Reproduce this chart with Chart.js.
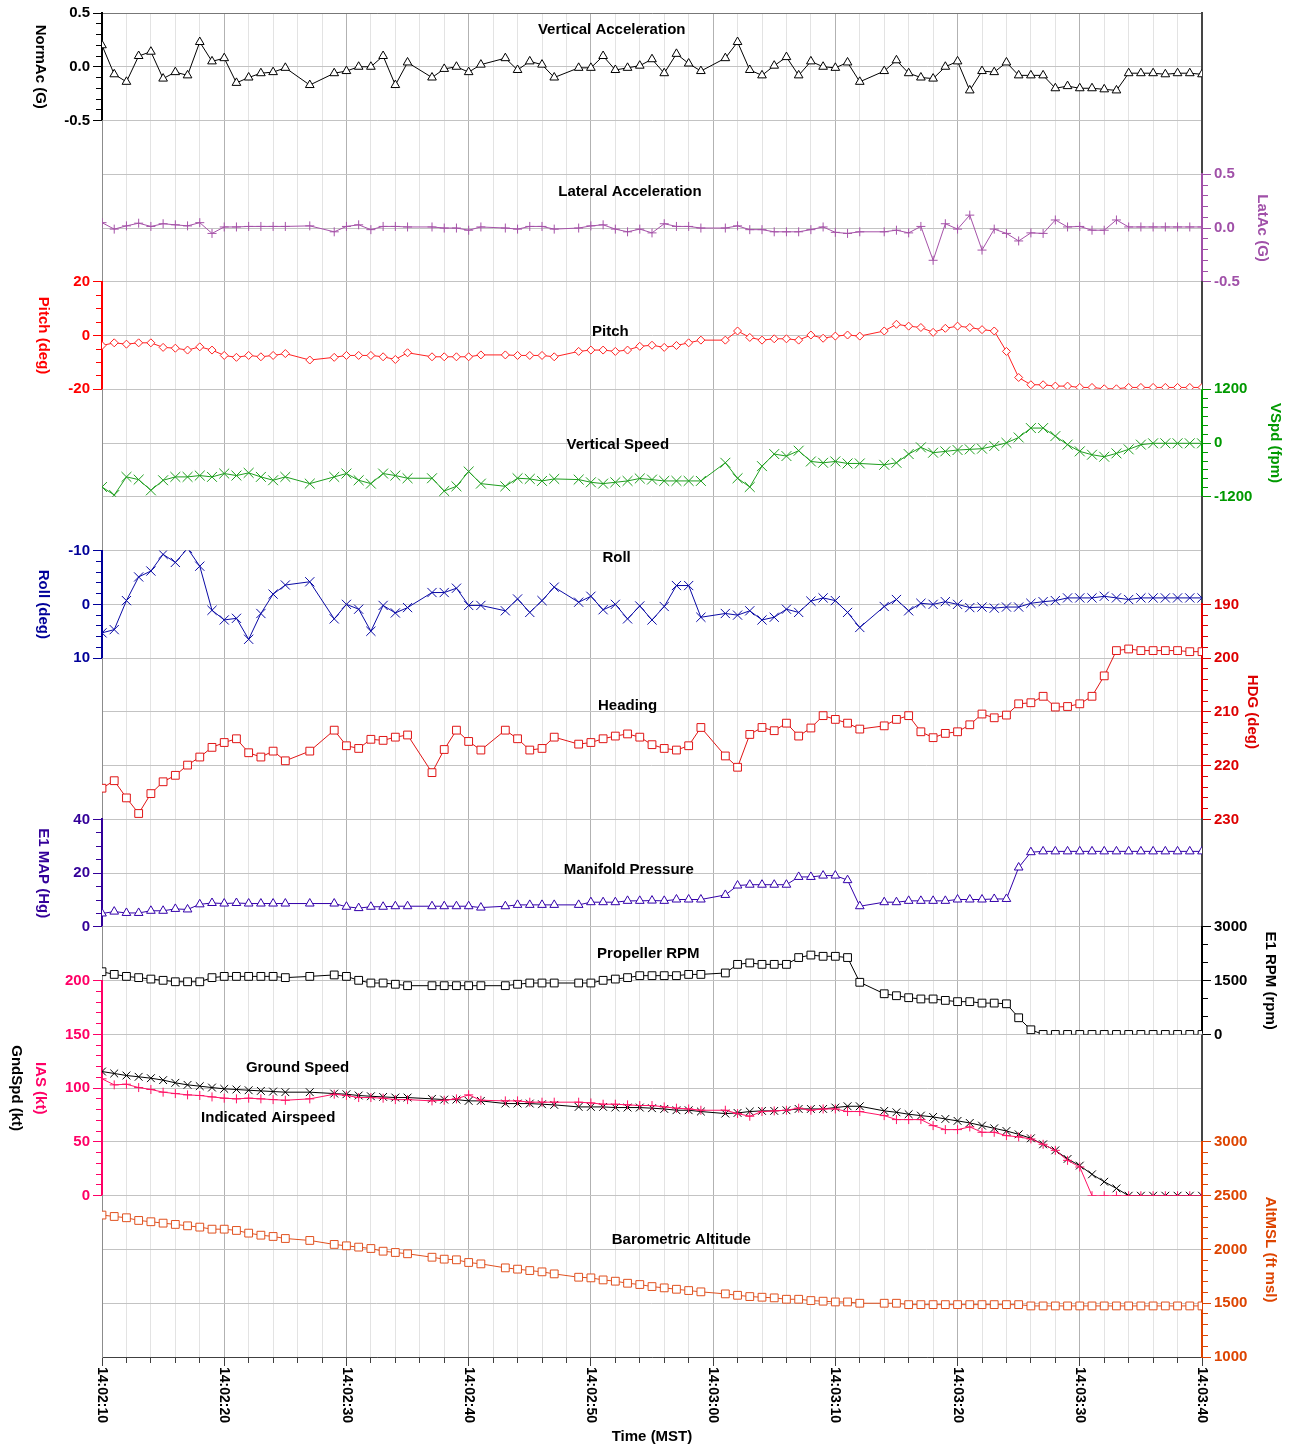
<!DOCTYPE html>
<html>
<head>
<meta charset="utf-8">
<title>Flight data 14:02:10 - 14:03:40</title>
<script src="https://cdn.jsdelivr.net/npm/chart.js@4.4.1/dist/chart.umd.min.js"></script>
<style>
  html, body { margin: 0; padding: 0; background: #fff; }
</style>
</head>
<body>
<canvas id="flightChart" width="1291" height="1448"></canvas>
<script>
// sample times, seconds after 14:02:10
const times = [0, 1, 2, 3, 4, 5, 6, 7, 8, 9, 10, 11, 12, 13, 14, 15, 17, 19, 20, 21, 22, 23, 24, 25,
  27, 28, 29, 30, 31, 33, 34, 35, 36, 37, 39, 40, 41, 42, 43, 44, 45, 46, 47, 48, 49,
  51, 52, 53, 54, 55, 56, 57, 58, 59, 60, 61, 62, 64, 65, 66, 67, 68, 69, 70, 71, 72, 73, 74,
  75, 76, 77, 78, 79, 80, 81, 82, 83, 84, 85, 86, 87, 88, 89, 90];
const timeLabels = ['14:02:10', '14:02:20', '14:02:30', '14:02:40', '14:02:50',
  '14:03:00', '14:03:10', '14:03:20', '14:03:30', '14:03:40'];

const normAc = [0.2, -0.07, -0.14, 0.1, 0.14, -0.11, -0.05, -0.08, 0.23, 0.05, 0.08, -0.15, -0.1, -0.06, -0.05, -0.01,
  -0.17,
  -0.06, -0.04, 0.0, 0.0, 0.1, -0.17, 0.04,
  -0.1, -0.02, 0.0, -0.05, 0.02,
  0.08, -0.03, 0.05, 0.02, -0.1,
  -0.01, -0.01, 0.1, -0.03, -0.01, 0.01, 0.07, -0.06, 0.12, 0.03, -0.04,
  0.08, 0.23, -0.03, -0.08, 0.01, 0.09, -0.08, 0.05, 0.0, -0.01, 0.04, -0.14,
  -0.04, 0.06, -0.06, -0.1, -0.11, 0.0, 0.05, -0.22, -0.04, -0.05, 0.04, -0.08, -0.08, -0.08, -0.2,
  -0.18, -0.2, -0.2, -0.21, -0.22, -0.06, -0.06, -0.06, -0.07, -0.06, -0.06, -0.07];

const latAc = [0.05, -0.01, 0.02, 0.045, 0.015, 0.04, 0.03, 0.02, 0.05, -0.05, 0.01, 0.01, 0.015, 0.015, 0.015, 0.015,
  0.02,
  -0.035, 0.015, 0.03, -0.015, 0.015, 0.015, 0.01,
  0.01, 0.0, 0.0, -0.02, 0.01,
  0.0, -0.01, 0.015, 0.015, -0.01,
  0.0, 0.02, 0.03, -0.01, -0.035, -0.01, -0.045, 0.04, 0.015, 0.015, 0.0,
  0.0, 0.02, -0.015, -0.015, -0.035, -0.035, -0.035, -0.015, 0.01, -0.04, -0.05, -0.035,
  -0.035, -0.02, -0.045, 0.015, -0.3, 0.04, -0.01, 0.12, -0.205, -0.01, -0.05, -0.12, -0.045, -0.05, 0.075,
  0.01, 0.015, -0.02, -0.02, 0.075, 0.01, 0.01, 0.01, 0.01, 0.01, 0.01, 0.01];

const pitch = [-3.7, -2.7, -3.2, -2.7, -2.7, -4.4, -4.7, -5.4, -4.2, -5.4, -7.4, -8.1, -7.4, -7.9, -7.4, -6.7,
  -9.1,
  -8.1, -7.4, -7.4, -7.4, -7.9, -8.9, -6.4,
  -7.9, -7.9, -7.9, -7.9, -7.2,
  -7.2, -7.4, -7.4, -7.4, -7.9,
  -5.9, -5.4, -5.4, -5.9, -5.4, -4.0, -3.6, -4.4, -3.7, -2.7, -1.7,
  -1.7, 1.7, -0.7, -1.7, -1.2, -1.2, -1.7, 0.2, -1.0, -0.2, 0.2, -0.2,
  1.7, 4.2, 3.5, 3.0, 1.2, 2.7, 3.5, 3.0, 2.2, 1.7, -5.9, -15.6, -18.3, -18.3, -18.8,
  -18.8, -19.3, -19.3, -19.8, -19.8, -19.3, -19.3, -19.3, -19.3, -19.3, -19.3, -19.3];

const vSpeed = [-980, -1160, -755, -815, -1055, -830, -755, -755, -725, -755, -680, -725, -665, -755, -830, -755,
  -905,
  -755, -680, -830, -905, -680, -725, -785,
  -785, -1070, -965, -635, -905,
  -965, -785, -800, -845, -800,
  -815, -875, -905, -875, -845, -790, -815, -845, -845, -845, -845,
  -440, -785, -980, -515, -245, -290, -170, -410, -440, -410, -455, -455,
  -485, -440, -245, -95, -215, -185, -155, -140, -125, -65, 5, 125, 335, 335, 155,
  -35, -185, -260, -305, -230, -140, -35, -5, -5, -5, -5, -5];

const roll = [5.3, 4.7, -0.7, -5.1, -6.2, -9.3, -7.8, -10.4, -7.1, 1.1, 2.9, 2.6, 6.5, 1.7, -1.9, -3.6,
  -4.2,
  2.7, 0.0, 0.9, 5.0, 0.2, 1.6, 0.6,
  -2.2, -2.2, -3.0, 0.2, 0.2,
  1.2, -1.0, 1.5, -0.7, -3.2,
  -0.4, -1.5, 1.0, 0.0, 2.7, 0.3, 2.9, 0.4, -3.5, -3.5, 2.4,
  1.7, 2.0, 1.2, 2.9, 2.4, 0.9, 1.5, -0.6, -1.2, -0.7, 1.5, 4.3,
  0.4, -0.9, 1.2, -0.2, 0.0, -0.5, 0.0, 0.6, 0.5, 0.7, 0.5, 0.5, -0.2, -0.5, -0.7,
  -1.2, -1.2, -1.2, -1.5, -1.2, -0.9, -1.2, -1.2, -1.2, -1.2, -1.2, -1.2];

const heading = [224.2, 222.8, 226.0, 228.9, 225.2, 223.0, 221.8, 219.9, 218.4, 216.6, 215.7, 215.0, 217.6, 218.4, 217.3, 219.1,
  217.3,
  213.4, 216.3, 216.8, 215.1, 215.3, 214.7, 214.3,
  221.3, 217.0, 213.4, 215.5, 217.1,
  213.4, 215.0, 217.1, 216.8, 214.7,
  216.0, 215.7, 215.0, 214.5, 214.1, 214.7, 216.1, 216.8, 217.1, 216.3, 212.9,
  218.2, 220.3, 214.2, 212.9, 213.5, 212.1, 214.5, 213.0, 210.7, 211.4, 212.1, 213.2,
  212.6, 211.4, 210.7, 213.7, 214.8, 214.0, 213.7, 212.4, 210.4, 211.1, 210.6, 208.5, 208.3, 207.1, 209.1,
  209.0, 208.5, 207.1, 203.3, 198.6, 198.3, 198.6, 198.6, 198.6, 198.6, 198.8, 198.8];

const manifold = [5.0, 5.7, 5.2, 5.2, 6.0, 6.0, 6.7, 6.5, 8.4, 8.9, 8.7, 8.9, 8.7, 8.7, 8.7, 8.7,
  8.7,
  8.7, 7.5, 7.0, 7.5, 7.5, 7.7, 7.7,
  7.7, 7.7, 7.7, 7.7, 7.2,
  7.7, 8.2, 8.2, 8.2, 8.2,
  8.2, 9.2, 9.2, 9.2, 9.7, 9.7, 9.8, 9.7, 10.2, 10.2, 10.2,
  11.9, 15.4, 15.7, 15.7, 15.7, 15.7, 18.6, 18.6, 19.1, 19.1, 17.4, 7.7,
  9.2, 9.2, 9.7, 9.7, 9.7, 9.7, 10.2, 10.2, 10.2, 10.4, 10.4, 22.1, 27.8, 28.1, 28.1,
  28.1, 28.1, 28.1, 28.1, 28.1, 28.1, 28.1, 28.1, 28.1, 28.1, 28.1, 28.1];

const propRpm = [1750, 1675, 1620, 1585, 1545, 1510, 1470, 1470, 1470, 1585, 1620, 1620, 1620, 1620, 1620, 1585,
  1620,
  1660, 1620, 1510, 1435, 1435, 1400, 1360,
  1360, 1360, 1360, 1360, 1360,
  1360, 1400, 1435, 1435, 1435,
  1435, 1435, 1510, 1545, 1585, 1640, 1640, 1640, 1640, 1675, 1675,
  1715, 1955, 1995, 1955, 1955, 1955, 2145, 2215, 2180, 2180, 2145, 1455,
  1135, 1080, 1025, 990, 990, 950, 915, 915, 875, 875, 855, 465, 130, 0, 0,
  0, 0, 0, 0, 0, 0, 0, 0, 0, 0, 0, 0];

const groundSpeed = [115.5, 113.7, 111.8, 110.6, 109.3, 107.5, 105.0, 103.1, 101.9, 100.6, 99.4, 98.8, 98.1, 97.5, 96.9, 96.3,
  96.3,
  95.0, 94.4, 93.2, 92.5, 91.9, 91.3, 91.3,
  90.1, 89.4, 89.4, 88.2, 88.2,
  85.7, 85.7, 85.7, 85.1, 84.5,
  82.6, 82.6, 82.6, 82.0, 82.0, 82.0, 81.4, 80.7, 79.5, 79.5, 78.3,
  76.4, 77.0, 78.3, 78.9, 78.9, 79.5, 80.7, 80.7, 80.7, 82.0, 83.2, 83.2,
  78.9, 77.6, 75.8, 74.5, 73.3, 71.4, 69.6, 67.7, 65.2, 62.7, 60.2, 57.1, 53.4, 47.8, 42.2,
  34.2, 28.0, 19.9, 13.0, 6.8, 0, 0, 0, 0, 0, 0, 0];

const airspeed = [108.7, 103.1, 103.7, 100.6, 98.8, 96.3, 95.0, 93.8, 93.2, 91.9, 90.7, 90.1, 90.7, 90.1, 89.4, 88.8,
  90.1,
  94.4, 93.2, 91.3, 91.3, 90.7, 89.4, 89.4,
  88.2, 88.8, 90.1, 93.8, 88.8,
  88.2, 88.2, 87.0, 87.0, 87.0,
  87.0, 86.3, 85.1, 85.1, 84.5, 83.9, 83.9, 82.6, 81.4, 80.7, 79.5,
  79.5, 76.4, 73.9, 78.3, 78.9, 79.5, 81.4, 79.5, 80.7, 80.7, 78.3, 78.3,
  74.5, 70.8, 70.8, 70.8, 65.2, 61.5, 61.5, 64.0, 59.0, 59.0, 55.9, 54.7, 52.8, 47.8, 42.2,
  32.9, 26.7, 0, 0, 0, 0, 0, 0, 0, 0, 0, 0];

const altitude = [2320, 2307, 2295, 2270, 2258, 2245, 2233, 2220, 2208, 2189, 2189, 2177, 2152, 2133, 2121, 2102,
  2084,
  2047, 2034, 2022, 2009, 1984, 1972, 1960,
  1928, 1910, 1904, 1879, 1866,
  1829, 1817, 1804, 1792, 1773,
  1742, 1736, 1717, 1705, 1686, 1674, 1655, 1643, 1630, 1618, 1606,
  1587, 1574, 1562, 1556, 1550, 1537, 1537, 1525, 1519, 1512, 1512, 1500,
  1500, 1500, 1487, 1487, 1487, 1487, 1487, 1487, 1487, 1487, 1487, 1487, 1475, 1475, 1475,
  1475, 1475, 1475, 1475, 1475, 1475, 1475, 1475, 1475, 1475, 1475, 1475];

// text inside the plot, placed in data coordinates
const panelTitles = [
  { text: 'Vertical Acceleration', axis: 'yNorm', t: 41.7, v: 0.345 },
  { text: 'Lateral Acceleration', axis: 'yLat', t: 43.2, v: 0.335 },
  { text: 'Pitch', axis: 'yPitch', t: 41.6, v: 1.5 },
  { text: 'Vertical Speed', axis: 'yVspd', t: 42.2, v: -40 },
  { text: 'Roll', axis: 'yRoll', t: 42.1, v: -8.7 },
  { text: 'Heading', axis: 'yHdg', t: 43.0, v: 208.8 },
  { text: 'Manifold Pressure', axis: 'yMap', t: 43.1, v: 21.2 },
  { text: 'Propeller RPM', axis: 'yRpm', t: 44.7, v: 2260 },
  { text: 'Ground Speed', axis: 'yIas', t: 16.0, v: 119 },
  { text: 'Indicated Airspeed', axis: 'yIas', t: 13.6, v: 72.6 },
  { text: 'Barometric Altitude', axis: 'yAlt', t: 47.4, v: 2090 }
];

const axisTitles = [
  { text: 'NormAc (G)', axis: 'yNorm', side: 'left', gap: 62, color: '#000000' },
  { text: 'Pitch (deg)', axis: 'yPitch', side: 'left', gap: 59, color: '#ff0000' },
  { text: 'Roll (deg)', axis: 'yRoll', side: 'left', gap: 59, color: '#000099' },
  { text: 'E1 MAP (Hg)', axis: 'yMap', side: 'left', gap: 59, color: '#330099' },
  { text: 'IAS (kt)', axis: 'yIas', side: 'left', gap: 62, color: '#ff0066' },
  { text: 'GndSpd (kt)', axis: 'yIas', side: 'left', gap: 86, color: '#000000' },
  { text: 'LatAc (G)', axis: 'yLat', side: 'right', gap: 60, color: '#a050a8' },
  { text: 'VSpd (fpm)', axis: 'yVspd', side: 'right', gap: 73, color: '#009900' },
  { text: 'HDG (deg)', axis: 'yHdg', side: 'right', gap: 50, color: '#dd0000' },
  { text: 'E1 RPM (rpm)', axis: 'yRpm', side: 'right', gap: 68, color: '#000000' },
  { text: 'AltMSL (ft msl)', axis: 'yAlt', side: 'right', gap: 68, color: '#dd4400' }
];

const FONT = '"Liberation Sans", Arial, Helvetica, sans-serif';
Chart.defaults.font.family = FONT;
Chart.defaults.font.size = 15;
Chart.defaults.font.weight = 'bold';
Chart.defaults.color = '#000';

const LEFT_W = 102, RIGHT_W = 89;

function onStep(v, step) {
  return Math.abs(v / step - Math.round(v / step)) < 1e-6;
}

// one panel axis: a slice of the left or right stack
function panelAxis(pos, order, cells, min, max, minor, major, color, fmt, reverse) {
  const values = [];
  for (let v = min; v <= max + minor / 1000; v += minor) values.push(+v.toFixed(4));
  const left = pos === 'left';
  return {
    type: 'linear', position: pos, stack: 'panels', stackWeight: cells, weight: order,
    min: min, max: max, reverse: !!reverse,
    afterBuildTicks: axis => { axis.ticks = values.map(v => ({ value: v })); },
    afterFit: axis => { axis.width = left ? LEFT_W : RIGHT_W; },
    border: { display: true, color: color, width: 2 },
    grid: {
      color: c => (c.tick && onStep(c.tick.value, major)) ? '#c3c3c3' : 'rgba(0,0,0,0)',
      tickColor: color,
      tickLength: 9,
      tickBorderDash: c => (c.tick && onStep(c.tick.value, major)) ? [] : (left ? [0, 3, 5, 40] : [5, 40])
    },
    ticks: {
      autoSkip: false, padding: 3, color: color,
      callback: v => onStep(v, major) ? fmt(v) : ''
    }
  };
}

// empty slice between two panels, only the frame line
function spacerAxis(pos, order, cells) {
  return {
    type: 'linear', position: pos, stack: 'panels', stackWeight: cells, weight: order,
    min: 0, max: 1,
    afterFit: axis => { axis.width = pos === 'left' ? LEFT_W : RIGHT_W; },
    border: { display: true, color: pos === 'left' ? '#8c8c8c' : '#454545', width: pos === 'left' ? 1 : 2 },
    grid: { display: false },
    ticks: { display: false }
  };
}

function series(label, axis, values, color, style, radius) {
  return {
    label: label,
    yAxisID: axis,
    data: times.map((t, i) => ({ x: t, y: values[i] })),
    borderColor: color,
    borderWidth: 1,
    pointStyle: style,
    pointRadius: radius,
    pointBorderColor: color,
    pointBackgroundColor: '#ffffff',
    pointBorderWidth: 1,
    tension: 0
  };
}

const fixed1 = v => v.toFixed(1);
const plain = v => String(v);

const overlayText = {
  id: 'overlayText',
  afterDatasetsDraw(chart) {
    const ctx = chart.ctx;
    const area = chart.chartArea;
    const xs = chart.scales.x;
    ctx.save();
    ctx.font = 'bold 15px ' + FONT;
    ctx.textBaseline = 'middle';
    ctx.textAlign = 'center';
    ctx.fillStyle = '#000';
    panelTitles.forEach(p => {
      ctx.fillText(p.text, xs.getPixelForValue(p.t), chart.scales[p.axis].getPixelForValue(p.v));
    });
    axisTitles.forEach(a => {
      const s = chart.scales[a.axis];
      const x = a.side === 'left' ? area.left - a.gap : area.right + a.gap;
      ctx.save();
      ctx.translate(x, (s.top + s.bottom) / 2);
      ctx.rotate(Math.PI / 2);
      ctx.fillStyle = a.color;
      ctx.fillText(a.text, 0, 0);
      ctx.restore();
    });
    ctx.font = 'bold 14px ' + FONT;
    ctx.textAlign = 'left';
    ctx.fillStyle = '#000';
    timeLabels.forEach((lbl, i) => {
      ctx.save();
      ctx.translate(xs.getPixelForValue(i * 10), area.bottom + 10);
      ctx.rotate(Math.PI / 2);
      ctx.fillText(lbl, 0, 0);
      ctx.restore();
    });
    ctx.restore();
  }
};

new Chart(document.getElementById('flightChart'), {
  type: 'line',
  data: {
    datasets: [
      series('NormAc', 'yNorm', normAc, '#000000', 'triangle', 5),
      series('LatAc', 'yLat', latAc, '#a552a8', 'cross', 4.5),
      series('Pitch', 'yPitch', pitch, '#ff2222', 'rectRot', 4),
      series('VSpd', 'yVspd', vSpeed, '#1e9e1e', 'crossRot', 7),
      series('Roll', 'yRoll', roll, '#0a0aa5', 'crossRot', 6.5),
      series('HDG', 'yHdg', heading, '#e01515', 'rect', 5.5),
      series('E1 MAP', 'yMap', manifold, '#3300aa', 'triangle', 5),
      series('E1 RPM', 'yRpm', propRpm, '#000000', 'rect', 5.5),
      series('IAS', 'yIas', airspeed, '#ff1466', 'cross', 4.5),
      series('GndSpd', 'yIas', groundSpeed, '#000000', 'crossRot', 5.5),
      series('AltMSL', 'yAlt', altitude, '#e0501e', 'rect', 5.5)
    ]
  },
  options: {
    responsive: false,
    animation: false,
    devicePixelRatio: 1,
    layout: { padding: 0 },
    plugins: { legend: { display: false }, tooltip: { enabled: false } },
    scales: {
      x: {
        type: 'linear', position: 'bottom', min: 0, max: 90,
        afterBuildTicks: axis => {
          const t = [];
          for (let v = 0; v <= 90; v += 2) t.push({ value: v });
          axis.ticks = t;
        },
        afterFit: axis => { axis.height = 91; },
        border: { color: '#404040', width: 1 },
        grid: {
          color: c => (c.tick && c.tick.value % 10 === 0) ? '#b2b2b2' : '#e3e3e3',
          tickColor: '#404040',
          tickLength: 9,
          tickBorderDash: c => (c.tick && c.tick.value % 10 === 0) ? [] : [5, 40]
        },
        ticks: { display: false },
        title: { display: true, text: 'Time (MST)', color: '#000', padding: { top: 0, bottom: 2 } }
      },
      xTop: {
        type: 'linear', position: 'top', min: 0, max: 90,
        afterFit: axis => { axis.height = 13; },
        border: { color: '#777777', width: 1 },
        grid: { display: false },
        ticks: { display: false }
      },
      yNorm: panelAxis('left', 10, 2, -0.5, 0.5, 0.1, 0.5, '#000000', fixed1),
      ySpL1: spacerAxis('left', 9, 3),
      yPitch: panelAxis('left', 8, 2, -20, 20, 5, 20, '#ff0000', plain),
      ySpL2: spacerAxis('left', 7, 3),
      yRoll: panelAxis('left', 6, 2, -10, 10, 2, 10, '#000099', plain, true),
      ySpL3: spacerAxis('left', 5, 3),
      yMap: panelAxis('left', 4, 2, 0, 40, 5, 20, '#330099', plain),
      ySpL4: spacerAxis('left', 3, 1),
      yIas: panelAxis('left', 2, 4, 0, 200, 10, 50, '#ff0066', plain),
      ySpL5: spacerAxis('left', 1, 3),
      ySpR1: spacerAxis('right', 1, 3),
      yLat: panelAxis('right', 2, 2, -0.5, 0.5, 0.1, 0.5, '#a050a8', fixed1),
      ySpR2: spacerAxis('right', 3, 2),
      yVspd: panelAxis('right', 4, 2, -1200, 1200, 200, 1200, '#009900', plain),
      ySpR3: spacerAxis('right', 5, 2),
      yHdg: panelAxis('right', 6, 4, 190, 230, 2, 10, '#dd0000', plain, true),
      ySpR4: spacerAxis('right', 7, 2),
      yRpm: panelAxis('right', 8, 2, 0, 3000, 500, 1500, '#000000', plain),
      ySpR5: spacerAxis('right', 9, 2),
      yAlt: panelAxis('right', 10, 4, 1000, 3000, 100, 500, '#dd4400', plain)
    }
  },
  plugins: [overlayText]
});
</script>
</body>
</html>
